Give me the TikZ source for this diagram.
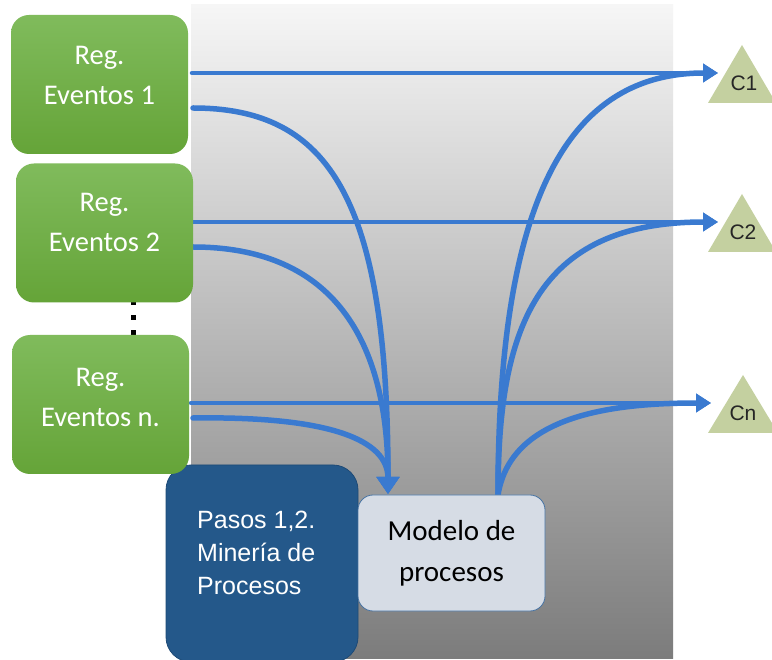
\documentclass[tikz,border=0pt]{standalone}
\usepackage{fontspec}
\newfontfamily\carlito{Carlito}
\newfontfamily\arialf{Liberation Sans}
\usetikzlibrary{arrows.meta}

\definecolor{flowblue}{RGB}{58,122,208}
\definecolor{greentop}{RGB}{128,187,92}
\definecolor{greenbot}{RGB}{101,164,56}
\definecolor{stepblue}{RGB}{36,88,138}
\definecolor{stepedge}{RGB}{30,74,118}
\definecolor{modelfill}{RGB}{214,220,229}
\definecolor{modeledge}{RGB}{72,116,164}
\definecolor{trifill}{RGB}{196,208,160}
\definecolor{paneltop}{RGB}{246,246,246}
\definecolor{panelbot}{RGB}{124,124,124}

\begin{document}
\begin{tikzpicture}[x=1pt,y=-1pt,
  greenbox/.style={rounded corners=18pt, top color=greentop, bottom color=greenbot,
    minimum width=177pt, minimum height=139pt, inner sep=0pt},
  regtext/.style={text=white, font=\carlito\fontsize{28.5}{40}\selectfont,
    align=center, inner sep=0pt},
  flowline/.style={draw=flowblue, line width=4.5pt, line cap=round},
  flowcurve/.style={draw=flowblue, line width=5.5pt, line cap=round},
  tipsmall/.style={-{Triangle[length=15pt,width=18pt]}},
  tipbig/.style={-{Triangle[length=17pt,width=22pt]}},
  clabel/.style={font=\arialf\fontsize{21}{24}\selectfont, text=black!85, inner sep=0pt}]

\useasboundingbox (0,0) rectangle (772,660);
\clip (0,0) rectangle (772,660);
\fill[white] (0,0) rectangle (772,660);

% grey backdrop
\fill[top color=paneltop, bottom color=panelbot] (191,5) rectangle (673,658);

% ports on the log boxes, the model and the consumers
\coordinate (s1a) at (192,73);
\coordinate (s1b) at (193,108);
\coordinate (s2a) at (192,222);
\coordinate (s2b) at (193,247);
\coordinate (sna) at (191,403);
\coordinate (snb) at (193,418);
\coordinate (min) at (388,494);
\coordinate (mout) at (498,495);
\coordinate (t1) at (718,73);
\coordinate (t2) at (718,222);
\coordinate (tn) at (711,403);

% consumers
\fill[trifill] (742,45) -- (776,103) -- (708,103) -- cycle;
\fill[trifill] (742,194) -- (776,252) -- (708,252) -- cycle;
\fill[trifill] (743,375) -- (778,433) -- (708,433) -- cycle;
\node[clabel] (c1) at (744,83) {C1};
\node[clabel] (c2) at (743,232) {C2};
\node[clabel] (cn) at (743,413) {Cn};

% direct flows
\draw[flowline, tipsmall] (s1a) -- (t1);
\draw[flowline, tipsmall] (s2a) -- (t2);
\draw[flowline, tipsmall] (sna) -- (tn);

% logs feeding the mining step
\draw[flowcurve, tipbig] (s1b) .. controls (330,108) and (388,200) .. (min);
\draw[flowcurve, tipbig] (s2b) .. controls (325,247) and (388,330) .. (min);
\draw[flowcurve, tipbig] (snb) .. controls (330,416) and (388,440) .. (min);

% model delivered to the consumers
\draw[flowcurve, tipsmall] (mout) .. controls (498,215) and (560,73) .. (t1);
\draw[flowcurve, tipsmall] (mout) .. controls (498,330) and (535,222) .. (t2);
\draw[flowcurve, tipsmall] (mout) .. controls (510,420) and (600,403) .. (tn);

% vertical ellipsis between the logs
\fill[black] (130.5,300.5) rectangle +(5,5);
\fill[black] (130.5,315.5) rectangle +(5,5);
\fill[black] (130.5,330.5) rectangle +(5,5);

% mining step and model
\node[fill=stepblue, draw=stepedge, line width=0.8pt, rounded corners=25pt,
  minimum width=192pt, minimum height=197pt] (pasos) at (262,563.5) {};
\node[anchor=west, inner sep=0pt, align=left, text=white,
  font=\arialf\fontsize{25}{33}\selectfont] (pasostxt) at (197,553)
  {Pasos 1,2.\\Minería de\\Procesos};
\node[fill=modelfill, draw=modeledge, line width=0.8pt, rounded corners=15pt,
  minimum width=187pt, minimum height=116pt, align=center, text=black,
  font=\carlito\fontsize{29}{41}\selectfont] (modelo) at (451.5,553)
  {Modelo de\\procesos};

% event logs
\node[greenbox] (r1) at (99.5,84.5) {};
\node[greenbox] (r2) at (104.5,233) {};
\node[greenbox] (rn) at (100.5,404.5) {};
\node[regtext] (r1txt) at ([yshift=9.5pt]r1.center) {Reg.\\Eventos 1};
\node[regtext] (r2txt) at ([yshift=10.5pt]r2.center) {Reg.\\Eventos 2};
\node[regtext] (rntxt) at ([yshift=7pt]rn.center) {Reg.\\Eventos n.};
\end{tikzpicture}
\end{document}
